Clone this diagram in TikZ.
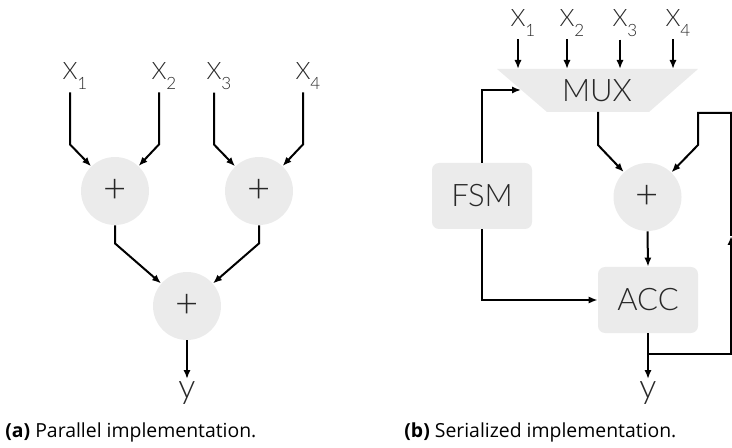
\documentclass[tikz,border=0pt]{standalone}
\usepackage{fontspec}
\setmainfont{Open Sans}
\newfontfamily\thinfont{Lato Light}
\usetikzlibrary{arrows.meta}

\definecolor{blockgray}{RGB}{235,235,235}
\definecolor{labelgray}{RGB}{40,40,40}

% input label with a lowered index
\newcommand{\inlbl}[1]{X\rlap{\raisebox{-5pt}{\fontsize{8.5}{9}\selectfont #1}}}

\begin{document}
\begin{tikzpicture}[x=0.5pt,y=-0.5pt,
    arr/.style={line width=1pt,-{Latex[length=4.5pt,width=3.6pt]}},
    lbl/.style={inner sep=1pt,text=labelgray,font=\thinfont\fontsize{12}{14}\selectfont},
    adder/.style={circle,fill=blockgray,minimum size=34pt,inner sep=0pt,
        text=labelgray,font=\thinfont\fontsize{20}{22}\selectfont},
    block/.style={rectangle,rounded corners=3.5pt,fill=blockgray,minimum width=50pt,
        minimum height=33pt,text=labelgray,font=\thinfont\fontsize{15.5}{17}\selectfont},
    caption/.style={inner sep=0pt,font=\fontsize{9.7}{12}\selectfont}]
    \useasboundingbox (0,0) rectangle (732,448);

    % (a) adder tree
    \node[lbl,anchor=base] (a1) at (70,80) {\inlbl{1}};
    \node[lbl,anchor=base] (a2) at (159,80) {\inlbl{2}};
    \node[lbl,anchor=base] (a3) at (214,80) {\inlbl{3}};
    \node[lbl,anchor=base] (a4) at (303,80) {\inlbl{4}};
    \node[adder] (p1) at (115,191) {+};
    \node[adder] (p2) at (259,191) {+};
    \node[adder] (p3) at (187,306) {+};
    \node[lbl,anchor=north,font=\thinfont\fontsize{17}{19}\selectfont] (ya) at (187,379) {y};
    \draw[arr] (a1.south) -- ++(0,52) -- (p1);
    \draw[arr] (a2.south) -- ++(0,52) -- (p1);
    \draw[arr] (a3.south) -- ++(0,52) -- (p2);
    \draw[arr] (a4.south) -- ++(0,52) -- (p2);
    \draw[arr] (p1.south) -- ++(0,18) -- (p3);
    \draw[arr] (p2.south) -- ++(0,18) -- (p3);
    \draw[arr] (p3.south) -- (ya.north);

    % (b) serial version
    \fill[blockgray] (497,69) -- (698,69) -- (649,112) -- (547,112) -- cycle;
    \node[lbl,font=\thinfont\fontsize{15.5}{17}\selectfont] (mux) at (597,91) {MUX};
    \coordinate (muxtop) at (597,69);
    \coordinate (muxin) at (521,90);
    \coordinate (muxout) at (598,112);
    \node[lbl,anchor=base] (b1) at (518,27) {\inlbl{1}};
    \node[lbl,anchor=base] (b2) at (567,27) {\inlbl{2}};
    \node[lbl,anchor=base] (b3) at (620,27) {\inlbl{3}};
    \node[lbl,anchor=base] (b4) at (673,27) {\inlbl{4}};
    \node[block] (fsm) at (482,196) {FSM};
    \node[adder] (add) at (647.5,197) {+};
    \node[block] (acc) at (648,300) {ACC};
    \node[lbl,anchor=north,font=\thinfont\fontsize{17}{19}\selectfont] (yb) at (648,379) {y};
    \coordinate (tap) at (648,354);
    \coordinate (fbup) at (731,236);
    \foreach \i in {1,...,4}
        \draw[arr] (b\i.south) -- (b\i.south |- muxtop);
    \draw[arr] (fsm.north) |- (muxin);
    \draw[arr] (muxout) -- ++(0,33) -- (add);
    \draw[arr] (add.south) -- (acc.north);
    \draw[arr] (fsm.south) |- (acc.west);
    \draw[arr] (acc.south) -- (yb.north);
    \draw[arr] (tap) -| (fbup);
    \draw[arr] (fbup) |- ++(-33,-123) -- ++(0,32) -- (add);

    \node[caption,anchor=base west] (capa) at (5,437) {\textbf{(a)} Parallel implementation.};
    \node[caption,anchor=base west] (capb) at (404,437) {\textbf{(b)} Serialized implementation.};
\end{tikzpicture}
\end{document}
